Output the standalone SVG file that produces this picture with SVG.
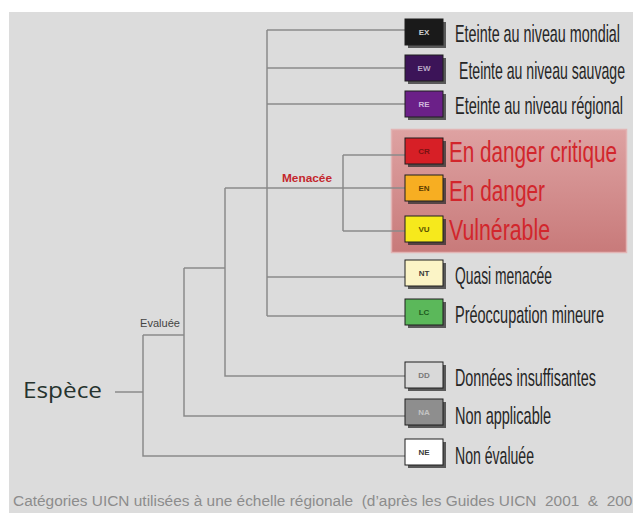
<svg xmlns="http://www.w3.org/2000/svg" width="633" height="513" viewBox="0 0 633 513">
<defs>
<linearGradient id="redg" x1="0" y1="0" x2="0" y2="1">
<stop offset="0" stop-color="#dea2a2"/>
<stop offset="1" stop-color="#c87a7a"/>
</linearGradient>
<style>
.bg{fill:#dcdcdc}
.ln{stroke:#8a8a8a;stroke-width:1.5;fill:none}
.sh{fill:#2e2e2e;opacity:0.75}
.bx{stroke:#1e1e1e;stroke-width:1}
.code{font-family:"Liberation Sans Narrow","Liberation Sans",Arial,sans-serif;font-size:8px;font-weight:bold;text-anchor:middle}
.lab{font-family:"Liberation Sans Narrow","Liberation Sans",Arial,sans-serif;font-size:14px;fill:#262626}
.red{font-family:"Liberation Sans Narrow","Liberation Sans",Arial,sans-serif;font-size:17.6px;fill:#d2262c}
.small{font-family:"Liberation Sans",Arial,sans-serif;font-size:10px}
</style>
</defs>
<rect width="633" height="513" fill="#ffffff"/>
<rect class="bg" x="9" y="12" width="624" height="501"/>
<rect id="menacee-zone" x="391.5" y="129.5" width="235" height="123" fill="url(#redg)" stroke="#e2b4b4" stroke-width="1.5"/>

<g id="connectors">
<path class="ln" d="M115,392 H143 M143,335 V456 H405 M143,335 H184 M184,268 V416 H405 M184,268 H225 M225,188 V376 H405 M225,188 H405 M267,30 V316 M267,30 H405 M267,68 H405 M267,104 H405 M267,277 H405 M267,316 H405 M343,155 V231 M343,155 H405 M343,231 H405"/>
</g>

<g id="espece"><text x="23" y="398" font-family="'Open Sans','Noto Sans',sans-serif" font-size="22" fill="#26332e" textLength="79" lengthAdjust="spacingAndGlyphs">Espèce</text></g>
<g id="evaluee"><text class="small" x="140" y="327" fill="#444" textLength="40" lengthAdjust="spacingAndGlyphs">Evaluée</text></g>
<g id="menacee"><text class="small" x="282" y="182" fill="#c4272d" font-weight="bold" textLength="50" lengthAdjust="spacingAndGlyphs">Menacée</text></g>

<g id="EX">
<rect class="sh" x="408" y="22" width="38" height="26"/>
<rect class="bx" x="405" y="19" width="38" height="26" fill="#1a1a1a"/>
<text class="code" x="424" y="35" fill="#cfcfcf">EX</text>
<text class="lab" transform="translate(455,42) scale(1,1.7)" textLength="165" lengthAdjust="spacingAndGlyphs">Eteinte au niveau mondial</text>
</g>
<g id="EW">
<rect class="sh" x="408" y="58" width="38" height="26"/>
<rect class="bx" x="405" y="55" width="38" height="26" fill="#3c1458"/>
<text class="code" x="424" y="71" fill="#b9a9c6">EW</text>
<text class="lab" transform="translate(459,79) scale(1,1.7)" textLength="166" lengthAdjust="spacingAndGlyphs">Eteinte au niveau sauvage</text>
</g>
<g id="RE">
<rect class="sh" x="408" y="94" width="38" height="26"/>
<rect class="bx" x="405" y="91" width="38" height="26" fill="#6b2088"/>
<text class="code" x="424" y="107" fill="#d0b8dc">RE</text>
<text class="lab" transform="translate(455,114) scale(1,1.7)" textLength="168" lengthAdjust="spacingAndGlyphs">Eteinte au niveau régional</text>
</g>
<g id="CR">
<rect class="sh" x="408" y="141" width="38" height="26"/>
<rect class="bx" x="405" y="138" width="38" height="26" fill="#d71f26"/>
<text class="code" x="424" y="154" fill="#7a1212">CR</text>
<text class="red" transform="translate(449,162) scale(1,1.7)" textLength="168" lengthAdjust="spacingAndGlyphs">En danger critique</text>
</g>
<g id="EN">
<rect class="sh" x="408" y="178" width="38" height="26"/>
<rect class="bx" x="405" y="175" width="38" height="26" fill="#f7ae22"/>
<text class="code" x="424" y="191" fill="#5c3c00">EN</text>
<text class="red" transform="translate(449,201) scale(1,1.7)" textLength="96" lengthAdjust="spacingAndGlyphs">En danger</text>
</g>
<g id="VU">
<rect class="sh" x="408" y="219" width="38" height="26"/>
<rect class="bx" x="405" y="216" width="38" height="26" fill="#f6e91c"/>
<text class="code" x="424" y="232" fill="#5a5200">VU</text>
<text class="red" transform="translate(449,240) scale(1,1.7)" textLength="101" lengthAdjust="spacingAndGlyphs">Vulnérable</text>
</g>
<g id="NT">
<rect class="sh" x="408" y="263" width="38" height="26"/>
<rect class="bx" x="405" y="260" width="38" height="26" fill="#fbf4c6"/>
<text class="code" x="424" y="276" fill="#3a3a3a">NT</text>
<text class="lab" transform="translate(455,284) scale(1,1.7)" textLength="97" lengthAdjust="spacingAndGlyphs">Quasi menacée</text>
</g>
<g id="LC">
<rect class="sh" x="408" y="302" width="38" height="26"/>
<rect class="bx" x="405" y="299" width="38" height="26" fill="#5bb85a"/>
<text class="code" x="424" y="315" fill="#1d5a1d">LC</text>
<text class="lab" transform="translate(455,323) scale(1,1.7)" textLength="149" lengthAdjust="spacingAndGlyphs">Préoccupation mineure</text>
</g>
<g id="DD">
<rect class="sh" x="408" y="365" width="38" height="26"/>
<rect class="bx" x="405" y="362" width="38" height="26" fill="#d9d9d9"/>
<text class="code" x="424" y="378" fill="#7a7a7a">DD</text>
<text class="lab" transform="translate(455,386) scale(1,1.7)" textLength="141" lengthAdjust="spacingAndGlyphs">Données insuffisantes</text>
</g>
<g id="NA">
<rect class="sh" x="408" y="402" width="38" height="26"/>
<rect class="bx" x="405" y="399" width="38" height="26" fill="#8e8e8e" stroke="#777"/>
<text class="code" x="424" y="415" fill="#c4c4c4">NA</text>
<text class="lab" transform="translate(455,424) scale(1,1.7)" textLength="96" lengthAdjust="spacingAndGlyphs">Non applicable</text>
</g>
<g id="NE">
<rect class="sh" x="408" y="442" width="38" height="26"/>
<rect class="bx" x="405" y="439" width="38" height="26" fill="#ffffff"/>
<text class="code" x="424" y="455" fill="#3a3a3a">NE</text>
<text class="lab" transform="translate(455,464) scale(1,1.7)" textLength="79" lengthAdjust="spacingAndGlyphs">Non évaluée</text>
</g>

<g id="caption"><text transform="translate(13,506) scale(1,1.5)" font-family="'Liberation Sans Narrow','Liberation Sans',Arial,sans-serif" font-size="10" fill="#8c8c8c" textLength="628" lengthAdjust="spacingAndGlyphs" xml:space="preserve">Catégories UICN utilisées à une échelle régionale  (d’après les Guides UICN  2001  &amp;  2003</text></g>
</svg>
